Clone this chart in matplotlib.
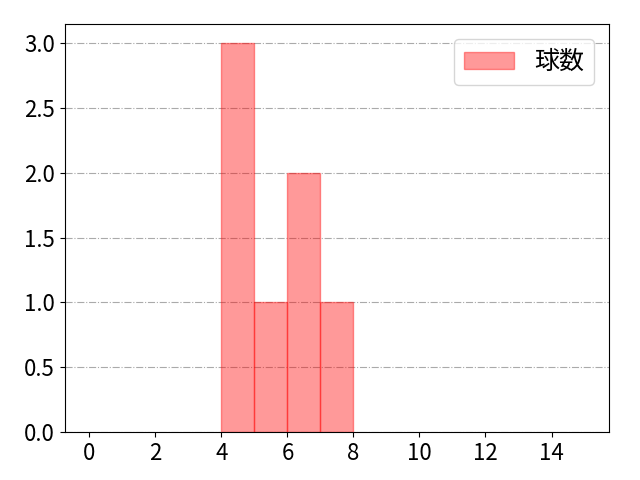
import matplotlib
matplotlib.use('Agg')
import matplotlib.pyplot as plt

plt.rcParams['font.family'] = ['Noto Sans CJK JP', 'DejaVu Sans']

# ビンの左端と度数
bin_edges = [4, 5, 6, 7, 8]
counts = [3, 1, 2, 1]
label = '球数'

fig, ax = plt.subplots(figsize=(6.4, 4.8), dpi=100)
fig.subplots_adjust(left=0.101, right=0.952, top=0.95, bottom=0.1)

ax.bar(bin_edges[:-1], counts, width=1, align='edge',
       color='red', alpha=0.4, edgecolor='red', linewidth=1, label=label)

ax.set_xlim(-0.75, 15.75)
ax.set_xticks(range(0, 15, 2))
ax.set_yticks([0, 0.5, 1.0, 1.5, 2.0, 2.5, 3.0])
ax.tick_params(labelsize=16)
ax.grid(axis='y', linestyle='-.', color='#aaaaaa')
ax.set_axisbelow(True)

ax.legend(fontsize=18, loc='upper right', borderaxespad=0.6)

plt.savefig('out.png')
